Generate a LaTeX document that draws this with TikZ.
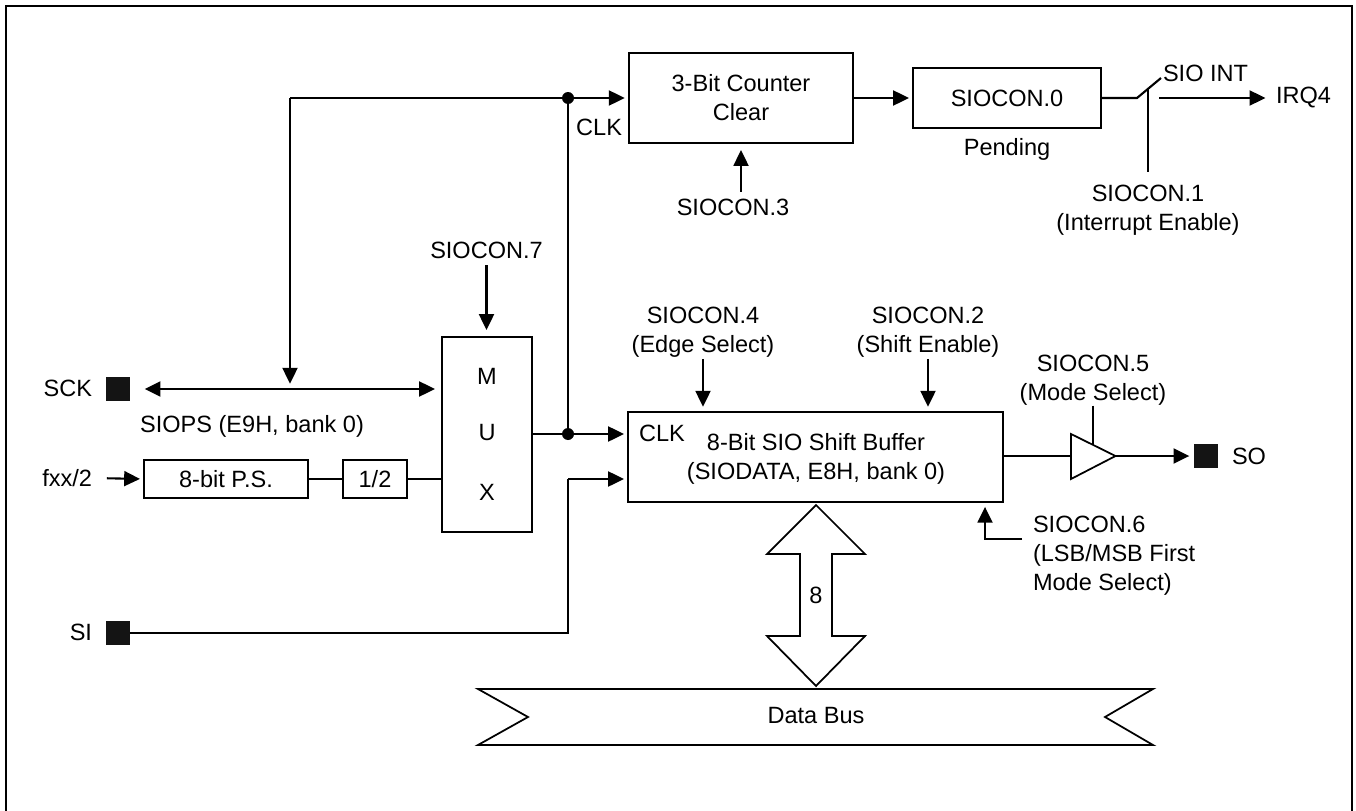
\documentclass[tikz,border=0pt]{standalone}
\usepackage{fontspec}
\setmainfont{Liberation Sans}
\usetikzlibrary{calc,arrows.meta,positioning}

\tikzset{
	sbox/.style={draw, line width=1.2pt, inner sep=0pt, outer sep=0pt},
	label/.style={inner sep=0pt, outer sep=0pt, align=center},
	pinsq/.style={fill=black!92, inner sep=0pt, outer sep=0pt, minimum width=0.47cm, minimum height=0.47cm},
	sline/.style={line width=1.2pt},
	sarrow/.style={line width=1.2pt, ->, shorten >=2.3pt},
	jdot/.style={circle, fill=black, inner sep=0pt, minimum size=0.24cm, outer sep=0pt}
}

\begin{document}
\begin{tikzpicture}[>={Triangle[length=9pt,width=8.5pt]}, x=0.02cm, y=-0.02cm, font=\fontsize{13.4}{16.5}\selectfont]
		\useasboundingbox (0,0) rectangle (1356,811);
		\draw[line width=1.5pt] (6,811) -- (6,6) -- (1352,6) -- (1352,811);

		% boxes
		\node[sbox, minimum width=4.49cm, minimum height=1.8cm, align=center] (counter) at (741,98) {3-Bit Counter\\Clear};
		\node[sbox, minimum width=3.76cm, minimum height=1.2cm] (siocon0) at (1007,98) {SIOCON.0};
		\node[sbox, minimum width=1.8cm, minimum height=3.9cm] (mux) at (487,434.5) {};
		\node[label] (muxm) at (487,376) {M};
		\node[label] (muxu) at (487,433) {U};
		\node[label] (muxx) at (487,492) {X};
		\node[sbox, minimum width=3.28cm, minimum height=0.76cm] (presc) at (226,479) {8-bit P.S.};
		\node[sbox, minimum width=1.28cm, minimum height=0.76cm] (half) at (375,479) {1/2};
		\node[sbox, minimum width=7.5cm, minimum height=1.8cm] (shift) at (815.5,457) {};
		\node[label] (shiftname) at (816,458.5) {8-Bit SIO Shift Buffer\\(SIODATA, E8H, bank 0)};

		% pins
		\node[pinsq] (sck) at (118,389) {};
		\node[pinsq] (si) at (118,633) {};
		\node[pinsq] (so) at (1206,456) {};
		\node[label, anchor=east] (scktxt) at (92,388) {SCK};
		\node[label, anchor=east] (sitxt) at (92,632) {SI};
		\node[label, anchor=west] (sotxt) at (1232,456) {SO};
		\node[label, anchor=east] (fxx) at (92,478) {fxx/2};

		% labels
		\node[label, anchor=east] (clka) at (622,127) {CLK};
		\node[label, anchor=west] (clkb) at (639,433) {CLK};
		\node[label] (pending) at (1007,149) {Pending};
		\node[label, anchor=west] (sioint) at (1163,73) {SIO INT};
		\node[label, anchor=west] (irq) at (1276,98) {IRQ4};
		\node[label] (siocon3) at (733,207) {SIOCON.3};
		\node[label] (siocon1) at (1148,210) {SIOCON.1\\(Interrupt Enable)};
		\node[label] (siocon7) at (486.5,250) {SIOCON.7};
		\node[label] (siocon4) at (703,332) {SIOCON.4\\(Edge Select)};
		\node[label] (siocon2) at (928,332) {SIOCON.2\\(Shift Enable)};
		\node[label] (siocon5) at (1093,380.5) {SIOCON.5\\(Mode Select)};
		\node[label, align=left, anchor=west] (siocon6) at (1033,556) {SIOCON.6\\(LSB/MSB First\\Mode Select)};
		\node[label] (siops) at (252,426) {SIOPS (E9H, bank 0)};

		% clock routing
		\coordinate (corner) at (290,98);
		\coordinate (jtop) at (568,98);
		\coordinate (jbot) at (568,434);
		\coordinate (sibend) at (568,633);
		\coordinate (sitop) at (568,479);
		\node[jdot] (dota) at (jtop) {};
		\node[jdot] (dotb) at (jbot) {};
		\draw[sline] (corner) -- (jtop);
		\draw[sarrow] (jtop) -- (counter.west |- jtop);
		\draw[sline] (jtop) -- (jbot);
		\draw[sline] (mux.east |- jbot) -- (jbot);
		\draw[sarrow] (jbot) -- (shift.west |- jbot);
		\draw[sarrow, shorten >=3pt] (corner) -- (290,389);
		\draw[line width=1.2pt, <->, shorten <=8.5pt, shorten >=4pt] (sck.east) -- (mux.west |- sck);

		% input path
		\draw[sarrow, shorten <=8.5pt] (fxx.east) -- (presc.west);
		\draw[sline] (presc.east) -- (half.west);
		\draw[sline] (half.east) -- (mux.west |- half);
		\draw[sline] (si.east) -- (sibend) -- (sitop);
		\draw[sarrow] (sitop) -- (shift.west |- sitop);

		% control arrows
		\draw[sarrow] (counter.east) -- (siocon0.west);
		\draw[->, line width=1.2pt, shorten <=4pt, shorten >=4pt] (siocon3.north -| counter.south) -- (counter.south);
		\draw[->, line width=1.2pt, shorten <=4pt, shorten >=4pt] (siocon7.south) -- (siocon7.south |- mux.north);
		\draw[->, line width=1.2pt, shorten <=1pt, shorten >=3pt] (siocon4.south) -- (siocon4.south |- shift.north);
		\draw[->, line width=1.2pt, shorten <=1pt, shorten >=3pt] (siocon2.south) -- (siocon2.south |- shift.north);

		% interrupt switch
		\coordinate (swa) at (1137,98);
		\coordinate (swb) at (1161,78);
		\coordinate (swc) at (1148,89);
		\coordinate (swout) at (1159,98);
		\draw[sline] (siocon0.east) -- (swa) -- (swb);
		\draw[sline] (swc) -- (1148,172);
		\draw[->, line width=1.2pt, shorten >=6pt] (swout) -- (irq.west);

		% output buffer
		\coordinate (tria) at (1071,434);
		\coordinate (trib) at (1071,479);
		\coordinate (tric) at (1115.5,456);
		\draw[sline] (shift.east |- tric) -- (tric -| tria);
		\draw[line width=1pt] (tria) -- (tric) -- (trib) -- cycle;
		\draw[sline] (siocon5.south) -- (1093,445);
		\draw[sarrow, shorten >=2.8pt] (tric) -- (so.west);
		\coordinate (lsbend) at (985,539);
		\coordinate (lsbfrom) at (1022,539);
		\draw[line width=1.2pt, ->, shorten >=2.8pt] (lsbfrom) -- (lsbend) -- (lsbend |- shift.south);

		% data bus and arrow
		\draw[line width=1pt] (816,505) -- (865,554) -- (832,554) -- (832,636) -- (865,636) -- (816,686) -- (767,636) -- (800,636) -- (800,554) -- (767,554) -- cycle;
		\node[label] (eight) at (816,595) {8};
		\draw[line width=1pt] (478,689) -- (1153,689) -- (1105,717) -- (1153,745) -- (478,745) -- (528,717) -- cycle;
		\node[label] (busname) at (816,716) {Data Bus};
	\end{tikzpicture}
\end{document}
